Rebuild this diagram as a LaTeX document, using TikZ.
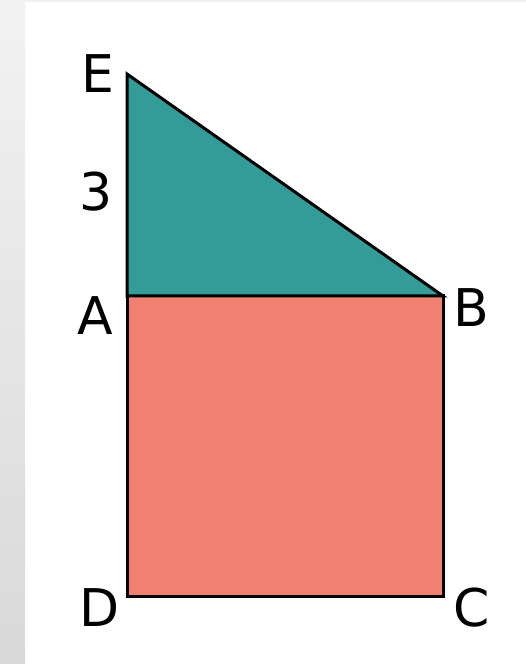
\documentclass[tikz,border=0pt]{standalone}
\usepackage{fontspec}
\setmainfont{DejaVu Sans}
\definecolor{teal1}{RGB}{52,156,152}
\definecolor{salmon1}{RGB}{240,128,112}
\tikzset{
    lab/.style={inner sep=0pt, font=\fontsize{52}{52}\selectfont},
    edge/.style={line width=3pt, line join=miter}
}

\begin{document}
\begin{tikzpicture}[x=1pt,y=1pt]
    % page and grey strip on the left
        \useasboundingbox (0,0) rectangle (526,664);
        \fill[white] (0,0) rectangle (526,664);
        \shade[top color=black!5, bottom color=black!15] (0,0) rectangle (25,664);
        \fill[black!6] (25,662) rectangle (526,664);

    % mark points
        \coordinate (E) at (127,590);
        \coordinate (A) at (127,368);
        \coordinate (B) at (443,368);
        \coordinate (C) at (443,67);
        \coordinate (D) at (127,67);

    % draw square and triangle
        \filldraw[edge, fill=salmon1] (A) -- (B) -- (C) -- (D) -- cycle;
        \filldraw[edge, fill=teal1] (E) -- (B) -- (A) -- cycle;

    % labels
    \node[lab] (labE) at (97.5,590) {E};
    \node[lab] (lab3) at (96,472) {3};
    \node[lab] (labA) at (95.5,348) {A};
    \node[lab] (labB) at (471.5,356) {B};
    \node[lab] (labC) at (471.5,56) {C};
    \node[lab] (labD) at (100,56) {D};

    \end{tikzpicture}
\end{document}
